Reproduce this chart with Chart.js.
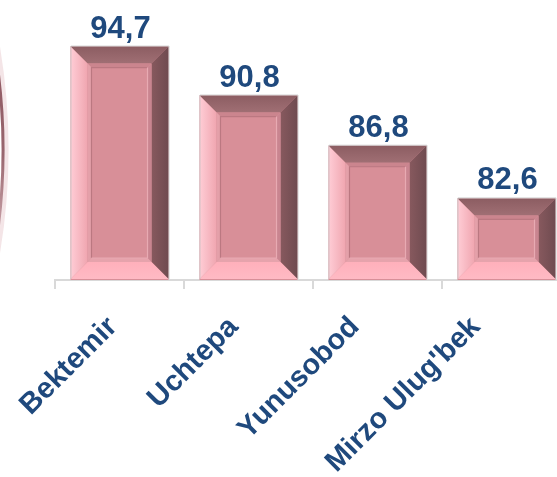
<!DOCTYPE html>
<html><head><meta charset="utf-8">
<script src="https://cdn.jsdelivr.net/npm/chart.js@4"></script>
<style>
html,body{margin:0;padding:0;background:#fff;overflow:hidden;width:557px;height:477px;}
#wrap{position:absolute;left:0;top:0;width:580px;height:477px;}
</style></head><body>
<div id="wrap"><canvas id="c" width="580" height="477"></canvas></div>
<script>
const categories = ["Bektemir", "Uchtepa", "Yunusobod", "Mirzo Ulug'bek"];
const values = [94.7, 90.8, 86.8, 82.6];
const yMin = 76.1;
const yMax = 96.5;

const TEXT_BLUE = '#1F497D';
const FACE = '#D88F98';

function fmt(v){ return v.toFixed(1).replace('.', ','); }

const arcPlugin = {
  id: 'arcDeco',
  beforeDraw(chart){
    const ctx = chart.ctx;
    ctx.save();
    ctx.beginPath();
    ctx.arc(-622, 150, 627, -0.19, 0.19);
    ctx.lineWidth = 7;
    ctx.strokeStyle = 'rgba(210,150,160,0.25)';
    ctx.stroke();
    const g = ctx.createLinearGradient(0, 30, 0, 280);
    g.addColorStop(0, 'rgba(130,70,80,0.9)');
    g.addColorStop(0.5, 'rgba(130,70,80,0.8)');
    g.addColorStop(1, 'rgba(170,110,120,0.3)');
    ctx.beginPath();
    ctx.arc(-624, 150, 627, -0.19, 0.19);
    ctx.lineWidth = 3;
    ctx.strokeStyle = g;
    ctx.stroke();
    ctx.restore();
  }
};

function poly(ctx, pts, fill){
  ctx.beginPath();
  ctx.moveTo(pts[0][0], pts[0][1]);
  for (let i = 1; i < pts.length; i++) ctx.lineTo(pts[i][0], pts[i][1]);
  ctx.closePath();
  ctx.fillStyle = fill;
  ctx.fill();
}

const bevelPlugin = {
  id: 'bevel',
  afterDatasetsDraw(chart){
    const ctx = chart.ctx;
    const meta = chart.getDatasetMeta(0);
    const area = chart.chartArea;
    meta.data.forEach(bar => {
      const p = bar.getProps(['x','y','base','width'], true);
      const l = p.x - p.width/2, r = p.x + p.width/2;
      const t = Math.max(p.y, area.top);
      const b = Math.min(p.base, area.bottom) - 1;
      const bv = 17;
      ctx.save();
      let g = ctx.createLinearGradient(0, t, 0, t+bv);
      g.addColorStop(0, '#8C5D62'); g.addColorStop(1, '#A06F74');
      poly(ctx, [[l,t],[r,t],[r-bv,t+bv],[l+bv,t+bv]], g);
      g = ctx.createLinearGradient(r-bv, 0, r, 0);
      g.addColorStop(0, '#87595E'); g.addColorStop(1, '#6F4B50');
      poly(ctx, [[r,t],[r,b],[r-bv,b-bv],[r-bv,t+bv]], g);
      g = ctx.createLinearGradient(0, b-bv, 0, b);
      g.addColorStop(0, '#FFB0BB'); g.addColorStop(1, '#FFBAC4');
      poly(ctx, [[l,b],[r,b],[r-bv,b-bv],[l+bv,b-bv]], g);
      g = ctx.createLinearGradient(l, 0, l+bv, 0);
      g.addColorStop(0, '#FFCDD6'); g.addColorStop(1, '#F0A6B0');
      poly(ctx, [[l,t],[l+bv,t+bv],[l+bv,b-bv],[l,b]], g);
      const il = l+bv, ir = r-bv, it = t+bv, ib = b-bv;
      const s = 4;
      if (ib - it > 2*s + 4) {
        poly(ctx, [[il,it],[ir,it],[ir-s,it+s],[il+s,it+s]], '#CB858E');
        poly(ctx, [[ir,it],[ir,ib],[ir-s,ib-s],[ir-s,it+s]], '#C98590');
        poly(ctx, [[il,ib],[ir,ib],[ir-s,ib-s],[il+s,ib-s]], '#E6A3AC');
        poly(ctx, [[il,it],[il+s,it+s],[il+s,ib-s],[il,ib]], '#E4A0A9');
        ctx.lineWidth = 1.2;
        ctx.strokeStyle = '#BB7881';
        ctx.beginPath();
        ctx.moveTo(il+s, ib-s); ctx.lineTo(il+s, it+s); ctx.lineTo(ir-s, it+s);
        ctx.stroke();
        ctx.strokeStyle = '#E8AAB2';
        ctx.beginPath();
        ctx.moveTo(ir-s, it+s); ctx.lineTo(ir-s, ib-s); ctx.lineTo(il+s, ib-s);
        ctx.stroke();
      }
      ctx.lineWidth = 1;
      ctx.strokeStyle = 'rgba(190,190,190,0.7)';
      ctx.beginPath();
      ctx.moveTo(l+0.5, b); ctx.lineTo(l+0.5, t-0.5); ctx.lineTo(r+0.5, t-0.5); ctx.lineTo(r+0.5, b);
      ctx.stroke();
      ctx.restore();
    });
  }
};

const labelPlugin = {
  id: 'labels',
  afterDraw(chart){
    const ctx = chart.ctx;
    const meta = chart.getDatasetMeta(0);
    ctx.save();
    ctx.fillStyle = TEXT_BLUE;
    ctx.font = 'bold 31px "Liberation Sans", Arial, sans-serif';
    ctx.textAlign = 'center';
    ctx.textBaseline = 'alphabetic';
    meta.data.forEach((bar, i) => {
      const p = bar.getProps(['x','y'], true);
      ctx.fillText(fmt(values[i]), p.x + 1, p.y - 9);
    });
    const xs = chart.scales.x;
    const yBase = chart.chartArea.bottom + 48;
    ctx.font = 'bold 29px "Liberation Sans", Arial, sans-serif';
    ctx.textAlign = 'right';
    categories.forEach((c, i) => {
      const px = xs.getPixelForValue(i) - 1 - 8*i;
      ctx.save();
      ctx.translate(px, yBase);
      ctx.rotate(-Math.PI/4);
      ctx.fillText(c, 0, 0);
      ctx.restore();
    });
    ctx.restore();
  }
};

new Chart(document.getElementById('c'), {
  type: 'bar',
  data: {
    labels: categories,
    datasets: [{
      data: values,
      backgroundColor: FACE,
      borderWidth: 0,
      categoryPercentage: 1,
      barPercentage: 0.76
    }]
  },
  options: {
    responsive: false,
    animation: false,
    devicePixelRatio: 1,
    layout: { padding: { left: 55, right: 9, top: 24, bottom: 0 } },
    plugins: { legend: { display: false }, tooltip: { enabled: false } },
    scales: {
      x: {
        offset: true,
        grid: { offset: true, drawOnChartArea: false, drawTicks: true, tickLength: 9, color: '#D9D9D9', lineWidth: 2 },
        border: { display: true, color: '#D9D9D9', width: 2 },
        ticks: { display: false },
        afterFit(s){ s.height = 197; }
      },
      y: { display: false, min: yMin, max: yMax }
    }
  },
  plugins: [arcPlugin, bevelPlugin, labelPlugin]
});
</script>
</body></html>
